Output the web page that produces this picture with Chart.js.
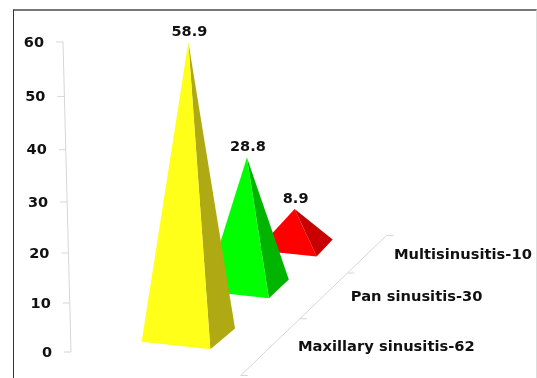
<!DOCTYPE html>
<html lang="en">
<head>
  <meta charset="UTF-8" />
  <title>Sinusitis types</title>
  <script src="https://cdn.jsdelivr.net/npm/chart.js"></script>
  <style>
    html, body { margin: 0; padding: 0; background: #fff; overflow: hidden; }
    #frame {
      position: absolute; left: 13px; top: 9px; width: 522px; height: 369px;
      border-left: 1px solid #333; border-top: 2px solid #777; border-right: 1px solid #ddd;
    }
    #sinusChart { position: absolute; left: 0; top: 0; }
  </style>
</head>
<body>
  <div id="frame"></div>
  <canvas id="sinusChart" width="537" height="378"></canvas>

  <script>
    const categories = ['Maxillary sinusitis-62', 'Pan sinusitis-30', 'Multisinusitis-10'];
    const values = [58.9, 28.8, 8.9];
    const axisMax = 60;
    const axisStep = 10;

    const faceColors = ['#ffff1a', '#00ff00', '#ff0000'];
    const sideColors = ['#afaa14', '#00b400', '#c80000'];

    const VALUE_FONT = 'bold 14.5px "DejaVu Sans"';
    const LABEL_FONT = 'bold 14.7px "DejaVu Sans"';
    const TEXT = '#111';
    const AXIS = '#d6d6d6';

    // value axis gets a little taller towards the top
    class TiltedScale extends Chart.LinearScale {
      static id = 'tilted';
      static defaults = Chart.LinearScale.defaults;
      getPixelForValue(v) {
        const r = v / this.max, b = 0.0612;
        return this.bottom - (this.bottom - this.top) * r * (1 - b) / (1 - b * r);
      }
    }
    Chart.register(TiltedScale);

    // floor projection, d runs 0..1 from front to back
    const shrink = d => 1 / (1 + 0.361 * d);
    const riseShrink = d => 1 / (0.9935 + 0.261 * d);
    const floorPoint = d => {
      const f = shrink(d) - 0.943;
      return { x: 188.5 - 609 * f, y: 335 + 517 * f };
    };
    const depthOf = (scale, px) => (px - scale.left) / scale.width;
    const axisPoint = d => {
      const p = floorPoint(d), f = shrink(d);
      return { x: p.x + (87 + 10 * d) * f, y: p.y + 11 * f };
    };

    function line(ctx, x1, y1, x2, y2, color) {
      ctx.strokeStyle = color;
      ctx.lineWidth = 1;
      ctx.beginPath();
      ctx.moveTo(x1, y1);
      ctx.lineTo(x2, y2);
      ctx.stroke();
    }

    function face(ctx, a, b, c, color) {
      ctx.fillStyle = color;
      ctx.beginPath();
      ctx.moveTo(a.x, a.y);
      ctx.lineTo(b.x, b.y);
      ctx.lineTo(c.x, c.y);
      ctx.closePath();
      ctx.fill();
    }

    const pyramids = {
      id: 'pyramids',
      // the bars only supply positions, the pyramids replace them
      beforeDatasetDraw() { return false; },
      afterDatasetsDraw(chart) {
        const { ctx, scales: { x, y } } = chart;
        const bars = chart.getDatasetMeta(0).data;
        ctx.save();

        // wall axis
        const wallX = py => 63 + (py - y.top) / (y.bottom - y.top) * 8;
        line(ctx, wallX(y.top), y.top, wallX(y.bottom), y.bottom, AXIS);
        ctx.font = VALUE_FONT;
        ctx.textAlign = 'right';
        ctx.textBaseline = 'middle';
        y.ticks.forEach(t => {
          const py = y.getPixelForValue(t.value), px = wallX(py);
          line(ctx, px - 7, py, px, py, AXIS);
          ctx.fillStyle = TEXT;
          ctx.fillText(t.value, px - 19, py + 1);
        });

        // floor axis with a tick between categories
        for (let i = 0; i <= categories.length; i++) {
          const p = axisPoint(i / categories.length);
          line(ctx, p.x, p.y, p.x + 7, p.y, AXIS);
          if (i > 0) {
            const q = axisPoint((i - 1) / categories.length);
            line(ctx, q.x, q.y, p.x, p.y, AXIS);
          }
        }
        ctx.font = LABEL_FONT;
        ctx.textAlign = 'left';
        categories.forEach((name, i) => {
          const p = axisPoint(depthOf(x, bars[i].x));
          ctx.fillStyle = TEXT;
          ctx.fillText(name, p.x + 26, p.y + 2);
        });

        // back to front so nearer pyramids cover the others
        ctx.font = VALUE_FONT;
        ctx.textAlign = 'center';
        ctx.textBaseline = 'alphabetic';
        for (let i = bars.length - 1; i >= 0; i--) {
          const d = depthOf(x, bars[i].x);
          const c = floorPoint(d), f = shrink(d);
          const frontLeft = { x: c.x - 49.5 * f, y: c.y + 7 * f };
          const frontRight = { x: c.x + 22, y: c.y + 15 * f };
          const backRight = { x: c.x + 49.5 * f, y: c.y - 7 * f };
          const apex = { x: c.x, y: c.y - (bars[i].base - bars[i].y) * riseShrink(d) };
          face(ctx, apex, frontRight, backRight, sideColors[i]);
          face(ctx, apex, frontLeft, frontRight, faceColors[i]);
          ctx.fillStyle = TEXT;
          ctx.fillText(values[i], apex.x + 1, apex.y - 6);
        }
        ctx.restore();
      }
    };

    new Chart(document.getElementById('sinusChart'), {
      type: 'bar',
      data: {
        labels: categories,
        datasets: [{ data: values, backgroundColor: faceColors }]
      },
      options: {
        responsive: false,
        animation: false,
        events: [],
        layout: { padding: { left: 62, right: 149, top: 42, bottom: 26 } },
        plugins: { legend: { display: false }, tooltip: { enabled: false } },
        scales: {
          x: { display: false },
          y: { type: 'tilted', display: false, min: 0, max: axisMax, ticks: { stepSize: axisStep } }
        }
      },
      plugins: [pyramids]
    });
  </script>
</body>
</html>
